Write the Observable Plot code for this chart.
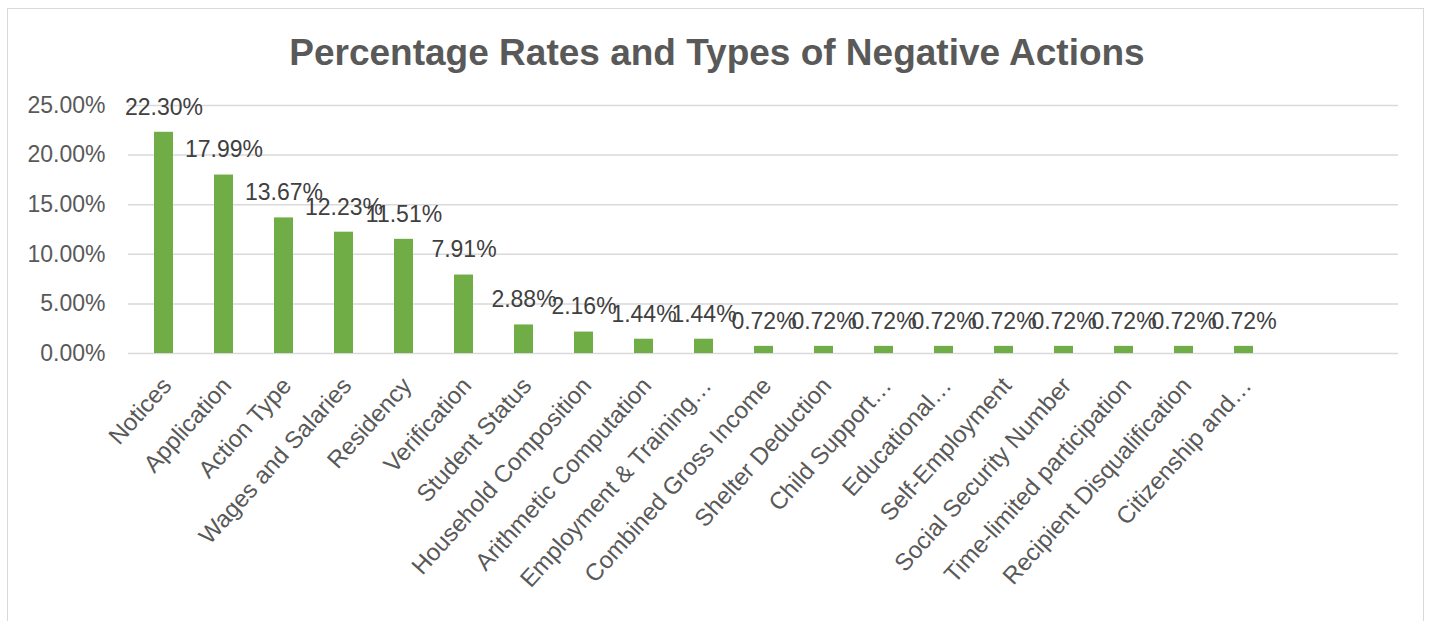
<!DOCTYPE html>
<html>
<head>
<meta charset="utf-8">
<script src="https://cdn.jsdelivr.net/npm/d3@7"></script>
<script src="https://cdn.jsdelivr.net/npm/@observablehq/plot@0.6"></script>
<style>
  html, body { margin: 0; padding: 0; background: #fff; }
  #wrap { position: relative; width: 1429px; height: 621px; overflow: hidden; background: #fff; font-family: "Liberation Sans", Arial, sans-serif; }
  #frame { position: absolute; left: 7px; top: 8px; width: 1417px; height: 700px; border: 1.5px solid #d9d9d9; box-sizing: border-box; pointer-events: none; }
  #title { position: absolute; left: 0; width: 1434px; top: 34px; text-align: center; font-size: 37px; line-height: 37px; font-weight: bold; color: #595959; }
  #chart { position: absolute; left: 0; top: 0; }
</style>
</head>
<body>
<div id="wrap">
  <div id="frame"></div>
  <div id="title">Percentage Rates and Types of Negative Actions</div>
  <div id="chart"></div>
</div>
<script>
const categories = [
  "Notices", "Application", "Action Type", "Wages and Salaries", "Residency",
  "Verification", "Student Status", "Household Composition", "Arithmetic Computation",
  "Employment & Training…", "Combined Gross Income", "Shelter Deduction", "Child Support…",
  "Educational…", "Self-Employment", "Social Security Number", "Time-limited participation",
  "Recipient Disqualification", "Citizenship and…"
];
const values = [
  0.2230, 0.1799, 0.1367, 0.1223, 0.1151,
  0.0791, 0.0288, 0.0216, 0.0144,
  0.0144, 0.0072, 0.0072, 0.0072,
  0.0072, 0.0072, 0.0072, 0.0072,
  0.0072, 0.0072
];
// two empty category slots at the end of the category axis (as in the source chart)
const emptySlots = ["", " "];
const yTicks = [0, 0.05, 0.10, 0.15, 0.20, 0.25];

const data = categories.map((c, i) => ({category: c, value: values[i]}));
const domain = [...categories, ...emptySlots];
const pct = d3.format(".2%");

const chart = Plot.plot({
  width: 1429,
  height: 621,
  marginTop: 105,
  marginBottom: 268,
  marginLeft: 128,
  marginRight: 31,
  style: {fontFamily: "'Liberation Sans', Arial, sans-serif", background: "transparent"},
  x: {domain, paddingInner: 0.686, paddingOuter: 0.343, label: null},
  y: {domain: [0, 0.25], label: null},
  marks: [
    Plot.ruleY(yTicks, {stroke: "#d9d9d9", strokeWidth: 1.5}),
    Plot.barY(data, {x: "category", y: "value", fill: "#70AD47"}),
    Plot.text(data, {x: "category", y: "value", text: d => pct(d.value), lineAnchor: "middle", dy: -25, fontSize: 23, fill: "#404040"}),
    Plot.axisY({ticks: yTicks, tickFormat: pct, tickSize: 0, tickPadding: 23, fontSize: 23, color: "#595959", label: null}),
    Plot.axisX({tickRotate: -48, tickSize: 0, tickPadding: 28, dx: 3, fontSize: 24, color: "#595959", label: null})
  ]
});
document.getElementById("chart").appendChild(chart);
</script>
</body>
</html>
